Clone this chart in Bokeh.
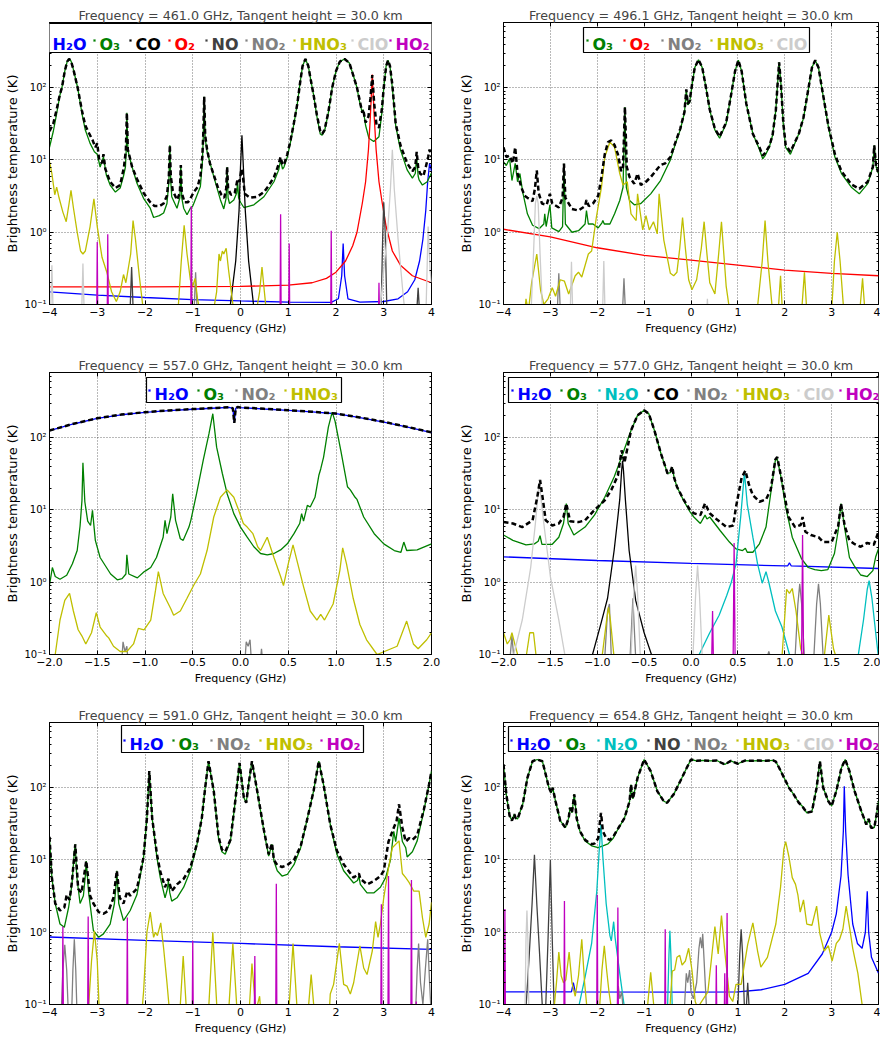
from bokeh.plotting import figure
from bokeh.layouts import column, row
from bokeh.models import (Range1d, FixedTicker, CustomJSTickFormatter, Label, BoxAnnotation, LinearAxis,
                          LogAxis)
from bokeh.embed import file_html
from bokeh.resources import INLINE

# ======================= DATA (frequency offset GHz, brightness temperature K) =======================
# ---- 461.0 GHz ----
tot_461 = [(-4.00, 25), (-3.92, 32), (-3.85, 50), (-3.78, 82), (-3.74, 100), (-3.68, 170), (-3.63, 230), (-3.59, 250),
           (-3.55, 235), (-3.50, 180), (-3.41, 100), (-3.32, 48), (-3.25, 30), (-3.18, 24), (-3.10, 19), (-3.04, 15),
           (-3.00, 17), (-2.96, 10), (-2.90, 9), (-2.87, 12), (-2.83, 7.5), (-2.73, 5), (-2.62, 4.1), (-2.52, 4.5),
           (-2.44, 8), (-2.40, 14), (-2.38, 45), (-2.36, 14), (-2.32, 11), (-2.27, 8), (-2.17, 5.5), (-2.03, 3.5),
           (-1.89, 2.6), (-1.80, 2.3), (-1.70, 2.3), (-1.61, 2.5), (-1.54, 3.2), (-1.50, 6), (-1.48, 16), (-1.46, 6),
           (-1.42, 3.8), (-1.33, 2.8), (-1.27, 3.5), (-1.25, 8.5), (-1.23, 3.5), (-1.17, 2.6), (-1.10, 2.6),
           (-1.04, 3.0), (-0.98, 3.6), (-0.90, 4.2), (-0.84, 6), (-0.80, 11), (-0.78, 22), (-0.76, 75), (-0.74, 22),
           (-0.70, 14), (-0.64, 9), (-0.56, 6.2), (-0.48, 4.3), (-0.40, 3.3), (-0.34, 3.0), (-0.30, 4), (-0.28, 8),
           (-0.26, 4), (-0.20, 3.3), (-0.12, 3.5), (-0.06, 5.5), (-0.02, 5), (0.02, 7.5), (0.05, 6), (0.09, 3.4),
           (0.20, 3.0), (0.35, 3.1), (0.49, 3.6), (0.60, 4.5), (0.70, 5.8), (0.78, 8), (0.84, 11), (0.88, 8.5),
           (0.92, 9), (0.98, 12), (1.05, 19), (1.12, 33), (1.19, 60), (1.25, 120), (1.30, 200), (1.36, 250),
           (1.42, 200), (1.47, 130), (1.53, 80), (1.60, 42), (1.67, 25), (1.71, 23), (1.76, 26), (1.84, 46),
           (1.92, 100), (2.00, 170), (2.08, 230), (2.18, 250), (2.28, 220), (2.36, 150), (2.44, 100), (2.50, 65),
           (2.55, 45), (2.57, 50), (2.62, 33), (2.68, 40), (2.72, 70), (2.76, 150), (2.80, 60), (2.85, 30),
           (2.90, 28), (2.96, 50), (3.00, 100), (3.05, 200), (3.09, 240), (3.13, 200), (3.18, 110), (3.25, 32),
           (3.35, 16), (3.49, 9), (3.60, 7), (3.66, 8), (3.69, 13), (3.72, 8), (3.76, 6.5), (3.83, 6), (3.88, 8),
           (3.93, 11), (3.96, 14), (4.00, 11)]
o3_461 = [(-4.00, 15), (-3.92, 25), (-3.85, 44), (-3.78, 80), (-3.74, 100), (-3.68, 170), (-3.63, 230), (-3.59, 250),
          (-3.55, 235), (-3.50, 180), (-3.41, 100), (-3.32, 44), (-3.25, 26), (-3.15, 17), (-3.06, 13), (-3.00, 12),
          (-2.94, 8), (-2.87, 11), (-2.81, 6.2), (-2.73, 4.5), (-2.62, 3.6), (-2.52, 4.1), (-2.45, 6), (-2.41, 8),
          (-2.39, 15), (-2.38, 45), (-2.36, 15), (-2.34, 12), (-2.27, 8), (-2.17, 4.8), (-2.03, 2.95), (-1.89, 2.15),
          (-1.82, 1.6), (-1.70, 1.7), (-1.61, 1.85), (-1.54, 2.5), (-1.50, 5), (-1.48, 16), (-1.46, 5), (-1.44, 3.1),
          (-1.33, 2.15), (-1.27, 3), (-1.25, 8.5), (-1.23, 3), (-1.19, 2.15), (-1.12, 1.75), (-1.05, 2.15),
          (-1.00, 2.3), (-0.95, 2.8), (-0.84, 4.3), (-0.80, 9), (-0.78, 20), (-0.76, 75), (-0.74, 20), (-0.70, 13),
          (-0.67, 11), (-0.56, 5.9), (-0.42, 2.8), (-0.35, 2.1), (-0.30, 3), (-0.28, 8), (-0.26, 3), (-0.23, 2.5),
          (-0.14, 2.8), (-0.08, 3.5), (-0.06, 5), (-0.04, 3), (0.00, 2.6), (0.07, 2.2), (0.28, 2.4), (0.49, 3.1),
          (0.70, 5.0), (0.80, 7.3), (0.84, 10), (0.88, 7.5), (0.91, 8), (0.98, 11), (1.05, 18), (1.12, 32),
          (1.19, 60), (1.25, 120), (1.30, 200), (1.36, 250), (1.42, 200), (1.47, 130), (1.53, 80), (1.60, 40),
          (1.67, 23), (1.71, 22), (1.76, 25), (1.84, 45), (1.92, 100), (2.00, 170), (2.08, 230), (2.18, 250),
          (2.28, 220), (2.36, 150), (2.44, 100), (2.48, 70), (2.55, 45), (2.57, 50), (2.62, 30), (2.69, 20),
          (2.79, 18), (2.90, 21), (2.96, 45), (3.00, 100), (3.05, 200), (3.09, 240), (3.13, 200), (3.18, 100),
          (3.25, 30), (3.35, 13.8), (3.49, 7.3), (3.60, 5.6), (3.66, 6.5), (3.69, 11), (3.72, 6), (3.74, 5.3),
          (3.81, 4.5), (3.91, 5), (4.00, 6.6)]
h2o_461 = [(-4.00, 0.15), (-3.00, 0.135), (-2.00, 0.125), (-1.00, 0.117), (0.00, 0.112), (1.00, 0.108), (1.90, 0.107),
           (2.05, 0.12), (2.12, 0.25), (2.15, 0.7), (2.18, 0.25), (2.25, 0.12), (2.50, 0.108), (3.00, 0.11),
           (3.30, 0.12), (3.50, 0.15), (3.65, 0.22), (3.75, 0.4), (3.82, 0.8), (3.88, 2), (3.92, 5), (3.96, 9),
           (4.00, 7)]
co_461 = [(-0.22, 0.09), (-0.10, 0.4), (-0.03, 2), (0.00, 8), (0.03, 22), (0.06, 8), (0.10, 2), (0.17, 0.4),
          (0.28, 0.09)]
o2_461 = [(-4.00, 0.175), (-2.00, 0.175), (0.00, 0.178), (1.00, 0.185), (1.50, 0.2), (1.80, 0.23), (2.00, 0.28),
          (2.20, 0.4), (2.35, 0.65), (2.44, 1.0), (2.55, 2.5), (2.62, 5), (2.68, 14), (2.72, 40), (2.76, 153),
          (2.80, 40), (2.84, 14), (2.90, 5), (2.97, 2.5), (3.05, 1.2), (3.18, 0.55), (3.35, 0.35), (3.60, 0.25),
          (4.00, 0.2)]
no_461 = [(-2.32, 0.06), (-2.28, 0.33), (-2.24, 0.06), (2.94, 0.06), (2.98, 1.0), (3.00, 2.6), (3.03, 1.0),
          (3.07, 0.06), (3.68, 0.06), (3.72, 0.17), (3.76, 0.06)]
no2_461 = [(-0.98, 0.06), (-0.94, 0.28), (-0.90, 0.06)]
hno3_461 = [(-4.00, 9.5), (-3.95, 6.5), (-3.89, 3.3), (-3.85, 4.2), (-3.80, 3), (-3.72, 1.9), (-3.65, 1.4),
            (-3.59, 2.5), (-3.55, 3.8), (-3.50, 2.2), (-3.42, 1.0), (-3.35, 0.55), (-3.30, 0.5), (-3.25, 0.55),
            (-3.15, 1.2), (-3.07, 2.9), (-3.00, 1.2), (-2.90, 0.45), (-2.80, 0.28), (-2.70, 0.15), (-2.60, 0.11),
            (-2.52, 0.15), (-2.45, 0.26), (-2.40, 0.2), (-2.30, 0.5), (-2.25, 1.45), (-2.20, 0.8), (-2.12, 0.25),
            (-2.05, 0.1), (-1.90, 0.06), (-1.40, 0.06), (-1.30, 0.1), (-1.24, 0.4), (-1.18, 1.25), (-1.12, 0.5),
            (-1.05, 0.22), (-1.00, 0.18), (-0.95, 0.23), (-0.90, 0.12), (-0.85, 0.08), (-0.60, 0.06), (-0.50, 0.15),
            (-0.45, 0.5), (-0.42, 0.4), (-0.38, 0.55), (-0.35, 0.5), (-0.30, 0.6), (-0.25, 0.3), (-0.15, 0.09),
            (0.30, 0.06), (0.40, 0.15), (0.45, 0.33), (0.50, 0.15), (0.55, 0.07), (4.00, 0.06)]
clo_461 = [(-3.98, 0.06), (-3.95, 0.35), (-3.92, 0.06), (-3.33, 0.06), (-3.30, 0.37), (-3.27, 0.06), (2.92, 0.08),
           (3.00, 0.3), (3.08, 1.0), (3.14, 4), (3.18, 13.8), (3.22, 4), (3.30, 0.8), (3.40, 0.15), (3.46, 0.06),
           (3.88, 0.06), (3.93, 1.2), (3.97, 0.3), (4.00, 0.2)]
ho2_461 = [(-3.00, 0.73), (-2.78, 0.94), (-1.03, 2.3), (0.84, 1.78), (1.02, 0.7), (1.90, 1.05), (2.90, 0.2)]

# ---- 496.1 GHz ----
tot_496 = [(-4.00, 15), (-3.94, 11), (-3.87, 11.5), (-3.80, 9), (-3.75, 15), (-3.70, 6.5), (-3.62, 4.2), (-3.55, 3.2),
           (-3.49, 3.0), (-3.38, 2.7), (-3.33, 4), (-3.29, 7.2), (-3.25, 3.5), (-3.18, 2.5), (-3.08, 2.4),
           (-3.01, 3.4), (-2.96, 2.5), (-2.82, 2.2), (-2.74, 3), (-2.71, 8.9), (-2.68, 3), (-2.54, 2.1), (-2.40, 2.0),
           (-2.26, 2.3), (-2.23, 2.8), (-2.18, 2.3), (-2.09, 2.5), (-1.98, 3.2), (-1.91, 5.8), (-1.84, 12),
           (-1.77, 17.7), (-1.70, 18.7), (-1.63, 16), (-1.56, 12), (-1.49, 7), (-1.45, 8), (-1.41, 54), (-1.37, 8),
           (-1.31, 5.8), (-1.21, 4.7), (-1.14, 6.5), (-1.07, 4.5), (-0.96, 5), (-0.86, 5.8), (-0.72, 7.5),
           (-0.65, 8.5), (-0.55, 9), (-0.44, 11), (-0.33, 17.7), (-0.23, 27), (-0.14, 46), (-0.10, 95), (-0.07, 60),
           (-0.03, 65), (0.03, 120), (0.08, 190), (0.16, 245), (0.24, 190), (0.32, 100), (0.40, 50), (0.51, 27),
           (0.61, 21), (0.75, 33), (0.86, 83), (0.94, 170), (1.01, 240), (1.08, 170), (1.18, 60), (1.32, 23),
           (1.46, 15), (1.53, 11.5), (1.58, 12.5), (1.67, 15.5), (1.74, 22), (1.81, 49), (1.85, 120), (1.88, 225),
           (1.92, 110), (1.97, 32), (2.02, 16), (2.12, 13), (2.30, 23), (2.40, 39), (2.51, 102), (2.58, 190),
           (2.65, 240), (2.72, 190), (2.79, 102), (2.93, 30), (3.07, 12), (3.21, 7), (3.42, 4.6), (3.59, 4),
           (3.77, 5), (3.88, 8), (3.91, 16), (3.95, 8), (4.00, 6.8)]
o3_496 = [(-4.00, 9.4), (-3.94, 8.4), (-3.87, 10.5), (-3.82, 5.2), (-3.75, 9), (-3.70, 5), (-3.65, 6.5), (-3.59, 3.6),
          (-3.49, 1.8), (-3.38, 1.25), (-3.24, 1.12), (-3.14, 1.3), (-3.12, 1.8), (-3.09, 1.2), (-3.01, 2.4),
          (-2.97, 1.15), (-2.82, 1.02), (-2.74, 1.2), (-2.71, 8.9), (-2.68, 1.3), (-2.54, 1.0), (-2.40, 1.05),
          (-2.26, 1.3), (-2.23, 2.0), (-2.19, 1.3), (-2.09, 1.3), (-1.98, 1.15), (-1.90, 1.35), (-1.88, 1.45),
          (-1.85, 1.3), (-1.73, 1.3), (-1.63, 1.8), (-1.52, 2.75), (-1.45, 4.2), (-1.41, 54), (-1.38, 4.2),
          (-1.31, 2.75), (-1.21, 2.4), (-1.07, 2.5), (-0.86, 3.4), (-0.65, 5.2), (-0.44, 10), (-0.33, 17),
          (-0.23, 26), (-0.14, 45), (-0.10, 92), (-0.07, 58), (-0.03, 62), (0.03, 118), (0.08, 190), (0.16, 244),
          (0.24, 190), (0.32, 100), (0.40, 49), (0.51, 26), (0.61, 20), (0.75, 32), (0.86, 83), (0.94, 170),
          (1.01, 240), (1.08, 170), (1.18, 60), (1.32, 23), (1.46, 14), (1.53, 10.4), (1.58, 11.5), (1.67, 15),
          (1.74, 22), (1.81, 49), (1.85, 120), (1.88, 225), (1.92, 110), (1.97, 30), (2.02, 15), (2.12, 12),
          (2.30, 23), (2.40, 38), (2.51, 100), (2.58, 190), (2.65, 240), (2.72, 190), (2.79, 100), (2.93, 29),
          (3.07, 11), (3.21, 6.5), (3.42, 4.2), (3.59, 3.4), (3.77, 4.7), (3.88, 8), (3.91, 16), (3.95, 8),
          (4.00, 6.5)]
o2_496 = [(-4.00, 1.1), (-3.00, 0.86), (-2.00, 0.61), (-1.00, 0.48), (0.00, 0.41), (1.00, 0.35), (2.00, 0.30),
          (3.00, 0.27), (4.00, 0.25)]
no2_496 = [(-2.86, 0.06), (-2.82, 0.27), (-2.78, 0.06), (-1.47, 0.06), (-1.43, 0.23), (-1.39, 0.06)]
hno3_496 = [(-3.56, 0.06), (-3.52, 0.12), (-3.47, 0.08), (-3.40, 0.2), (-3.29, 0.5), (-3.21, 0.16), (-3.14, 0.1),
            (-3.05, 0.12), (-2.96, 0.17), (-2.89, 0.13), (-2.79, 0.22), (-2.70, 0.21), (-2.61, 0.14), (-2.47, 0.25),
            (-2.40, 0.28), (-2.33, 0.24), (-2.19, 0.5), (-2.12, 0.55), (-2.02, 1.6), (-1.91, 4.2), (-1.84, 11),
            (-1.73, 17.7), (-1.63, 15), (-1.52, 6.5), (-1.45, 4.5), (-1.36, 5), (-1.28, 1.8), (-1.17, 1.45),
            (-1.14, 3.4), (-1.03, 1.08), (-0.96, 1.7), (-0.89, 1.08), (-0.80, 1.4), (-0.72, 0.95), (-0.68, 3.4),
            (-0.58, 0.78), (-0.44, 0.27), (-0.37, 0.25), (-0.30, 0.28), (-0.24, 0.6), (-0.18, 1.6), (-0.12, 0.6),
            (-0.05, 0.22), (0.02, 0.16), (0.12, 0.22), (0.22, 0.6), (0.28, 1.4), (0.34, 0.5), (0.40, 0.2),
            (0.51, 0.14), (0.59, 0.5), (0.65, 1.4), (0.70, 0.5), (0.75, 0.18), (0.84, 0.07), (1.40, 0.07),
            (1.52, 0.4), (1.58, 1.45), (1.64, 0.4), (1.74, 0.08), (1.86, 0.08), (1.91, 0.25), (1.95, 0.08),
            (2.36, 0.08), (2.42, 0.28), (2.47, 0.08), (3.00, 0.08), (3.06, 0.4), (3.12, 1.0), (3.18, 0.4),
            (3.26, 0.08), (3.60, 0.08), (3.66, 0.23), (3.71, 0.08)]
clo_496 = [(-3.42, 0.06), (-3.36, 0.5), (-3.32, 2.5), (-3.29, 3.2), (-3.26, 2.5), (-3.22, 0.5), (-3.16, 0.06),
           (-2.58, 0.06), (-2.55, 0.39), (-2.52, 0.06), (-1.89, 0.06), (-1.86, 0.4), (-1.83, 0.06), (0.33, 0.06),
           (0.35, 0.12), (0.37, 0.06)]

# ---- 557.0 GHz ----
tot_557 = [(-2.00, 126), (-1.75, 156), (-1.50, 186), (-1.25, 209), (-1.00, 226), (-0.75, 239), (-0.50, 249),
           (-0.25, 259), (-0.12, 264), (-0.08, 256), (-0.065, 160), (-0.05, 256), (-0.03, 266), (0.00, 263),
           (0.25, 251), (0.50, 241), (0.75, 229), (1.00, 216), (1.25, 191), (1.50, 166), (1.75, 141), (2.00, 119)]
h2o_557 = [(-2.00, 125), (-1.75, 155), (-1.50, 185), (-1.25, 208), (-1.00, 225), (-0.75, 238), (-0.50, 248),
           (-0.25, 258), (-0.12, 263), (-0.08, 255), (-0.065, 160), (-0.05, 255), (-0.03, 265), (0.00, 262),
           (0.25, 250), (0.50, 240), (0.75, 228), (1.00, 215), (1.25, 190), (1.50, 165), (1.75, 140), (2.00, 118)]
o3_557 = [(-2.00, 0.91), (-1.97, 1.6), (-1.94, 1.2), (-1.89, 1.1), (-1.82, 1.25), (-1.76, 1.8), (-1.71, 2.75),
          (-1.68, 6), (-1.66, 13.6), (-1.65, 45), (-1.63, 13), (-1.60, 7), (-1.57, 6.1), (-1.55, 9.9), (-1.52, 3.8),
          (-1.47, 2.2), (-1.36, 1.3), (-1.29, 1.08), (-1.24, 1.12), (-1.20, 1.3), (-1.19, 2.4), (-1.17, 1.3),
          (-1.08, 1.15), (-1.01, 1.4), (-0.99, 1.45), (-0.94, 1.6), (-0.88, 2.2), (-0.81, 4.2), (-0.79, 7.2),
          (-0.77, 4.7), (-0.73, 8), (-0.71, 16.8), (-0.68, 7.2), (-0.63, 4), (-0.60, 3.8), (-0.54, 5.8),
          (-0.52, 7.2), (-0.46, 16.8), (-0.39, 49), (-0.33, 114), (-0.29, 215), (-0.25, 74), (-0.19, 32),
          (-0.14, 16.8), (-0.07, 8.9), (0.00, 5.8), (0.07, 4.2), (0.14, 3.1), (0.21, 2.5), (0.28, 2.4), (0.35, 2.5),
          (0.42, 2.8), (0.49, 3.4), (0.56, 4.7), (0.62, 6.5), (0.64, 8.9), (0.66, 7), (0.70, 11.6), (0.73, 11),
          (0.78, 15), (0.82, 30), (0.84, 37), (0.87, 54), (0.92, 140), (0.96, 226), (0.99, 170), (1.05, 67),
          (1.12, 21), (1.15, 19), (1.20, 15), (1.22, 14), (1.29, 8), (1.40, 4.7), (1.50, 3.4), (1.61, 2.75),
          (1.68, 2.6), (1.71, 3.6), (1.74, 2.75), (1.85, 2.8), (2.00, 3.4)]
no2_557 = [(-1.25, 0.06), (-1.23, 0.15), (-1.21, 0.11), (-1.19, 0.13), (-1.17, 0.06), (0.04, 0.06), (0.06, 0.15),
           (0.08, 0.13), (0.10, 0.16), (0.12, 0.06), (0.20, 0.06), (0.22, 0.12), (0.24, 0.06)]
hno3_557 = [(-2.00, 0.06), (-1.94, 0.1), (-1.89, 0.3), (-1.84, 0.56), (-1.79, 0.7), (-1.75, 0.4), (-1.70, 0.22),
            (-1.66, 0.18), (-1.62, 0.14), (-1.56, 0.2), (-1.51, 0.38), (-1.47, 0.24), (-1.40, 0.18), (-1.38, 0.17),
            (-1.33, 0.13), (-1.26, 0.11), (-1.19, 0.11), (-1.12, 0.14), (-1.07, 0.23), (-1.01, 0.22), (-0.94, 0.3),
            (-0.89, 0.77), (-0.86, 1.4), (-0.81, 0.7), (-0.73, 0.43), (-0.70, 0.35), (-0.63, 0.4), (-0.56, 0.6),
            (-0.49, 0.91), (-0.42, 1.3), (-0.35, 2.75), (-0.28, 8), (-0.21, 15), (-0.14, 19), (-0.07, 15),
            (-0.02, 10), (0.03, 6.5), (0.07, 5.8), (0.13, 4.7), (0.18, 3.1), (0.21, 2.75), (0.28, 4.2), (0.35, 2.2),
            (0.42, 1.2), (0.45, 0.9), (0.50, 1.8), (0.55, 3.3), (0.60, 1.8), (0.66, 0.87), (0.73, 0.4), (0.80, 0.3),
            (0.84, 0.36), (0.88, 0.3), (0.97, 0.5), (1.04, 1.45), (1.07, 3.0), (1.11, 1.8), (1.18, 0.6),
            (1.25, 0.26), (1.32, 0.16), (1.43, 0.1), (1.64, 0.13), (1.74, 0.29), (1.81, 0.14), (1.86, 0.12),
            (1.95, 0.16), (2.00, 0.2)]

# ---- 577.0 GHz ----
tot_577 = [(-2.00, 6.8), (-1.90, 6.5), (-1.80, 5.8), (-1.69, 7.2), (-1.64, 15), (-1.61, 26), (-1.58, 14),
           (-1.55, 7.2), (-1.48, 6.1), (-1.41, 6.5), (-1.36, 8), (-1.33, 12.3), (-1.29, 7), (-1.20, 6.8),
           (-1.13, 7.2), (-1.03, 10), (-0.92, 13.6), (-0.85, 19), (-0.78, 30), (-0.74, 67), (-0.71, 45),
           (-0.64, 126), (-0.57, 204), (-0.50, 240), (-0.45, 215), (-0.39, 126), (-0.32, 60), (-0.25, 32),
           (-0.22, 34), (-0.20, 40), (-0.18, 28), (-0.15, 21), (-0.08, 14), (-0.01, 10), (0.03, 9), (0.10, 8.5),
           (0.15, 12.3), (0.20, 9), (0.27, 7.5), (0.38, 5.8), (0.45, 6.1), (0.48, 11), (0.50, 15), (0.54, 28),
           (0.58, 35), (0.62, 22), (0.66, 16), (0.73, 13), (0.80, 14), (0.85, 19), (0.90, 50), (0.92, 54),
           (0.97, 25), (1.04, 8), (1.11, 5.8), (1.17, 6.2), (1.19, 8), (1.22, 5), (1.28, 4.5), (1.36, 4.2),
           (1.41, 3.6), (1.50, 3.6), (1.57, 6), (1.60, 12.3), (1.64, 6), (1.69, 3.8), (1.74, 3.4), (1.81, 3.1),
           (1.88, 3.5), (1.95, 3.3), (2.00, 5)]
o3_577 = [(-2.00, 4.5), (-1.90, 3.8), (-1.76, 3.3), (-1.67, 3.4), (-1.63, 3.7), (-1.61, 4.4), (-1.59, 3.35),
          (-1.48, 3.35), (-1.41, 4.2), (-1.36, 6.5), (-1.33, 12.3), (-1.31, 6.5), (-1.25, 4.5), (-1.13, 5.8),
          (-1.03, 8.5), (-0.92, 15), (-0.82, 28.6), (-0.74, 54), (-0.64, 126), (-0.57, 204), (-0.50, 240),
          (-0.45, 215), (-0.39, 126), (-0.32, 60), (-0.25, 32), (-0.22, 33), (-0.20, 39), (-0.18, 28), (-0.15, 21),
          (-0.08, 13.6), (-0.01, 9.4), (0.03, 8), (0.10, 6.5), (0.15, 8.5), (0.17, 7.5), (0.20, 8), (0.31, 5.2),
          (0.41, 3.6), (0.48, 2.9), (0.55, 2.75), (0.58, 2.95), (0.60, 2.6), (0.66, 2.6), (0.73, 3.4), (0.80, 5.8),
          (0.85, 16.8), (0.90, 49), (0.92, 51), (0.96, 28.6), (1.01, 11), (1.08, 4.2), (1.18, 2.1), (1.25, 1.6),
          (1.32, 1.5), (1.39, 1.45), (1.46, 1.5), (1.53, 2.5), (1.57, 5.2), (1.60, 12.3), (1.64, 5.5), (1.69, 2.2),
          (1.74, 1.7), (1.81, 1.26), (1.88, 1.2), (1.94, 1.45), (1.97, 2.25), (2.00, 2.9)]
h2o_577 = [(-2.00, 2.25), (-1.00, 2.0), (0.00, 1.82), (1.00, 1.68), (1.03, 1.68), (1.05, 1.85), (1.07, 1.68),
           (2.00, 1.55)]
n2o_577 = [(0.07, 0.09), (0.20, 0.2), (0.30, 0.35), (0.38, 0.65), (0.43, 1.0), (0.48, 1.8), (0.53, 8), (0.57, 33),
           (0.60, 12), (0.66, 4.2), (0.71, 1.8), (0.76, 0.97), (0.80, 1.4), (0.83, 1.0), (0.90, 0.4), (0.97, 0.24),
           (1.06, 0.09), (1.78, 0.09), (1.84, 0.3), (1.88, 0.8), (1.90, 1.05), (1.93, 0.6), (1.97, 0.2),
           (2.00, 0.09)]
co_577 = [(-1.06, 0.09), (-0.96, 0.27), (-0.89, 0.6), (-0.82, 2.75), (-0.78, 8), (-0.76, 14), (-0.74, 35),
          (-0.73, 48), (-0.72, 35), (-0.70, 14), (-0.66, 2.75), (-0.59, 0.56), (-0.50, 0.2), (-0.41, 0.09)]
no2_577 = [(-1.93, 0.09), (-1.91, 0.18), (-1.89, 0.09), (-0.92, 0.09), (-0.89, 0.4), (-0.87, 0.5), (-0.85, 0.09),
           (-0.65, 0.09), (-0.62, 0.6), (-0.59, 0.09), (0.81, 0.09), (0.83, 0.11), (0.85, 0.09), (1.11, 0.09),
           (1.14, 0.5), (1.16, 0.95), (1.18, 0.5), (1.21, 0.09), (1.31, 0.09), (1.34, 0.5), (1.36, 0.95),
           (1.38, 0.5), (1.41, 0.09)]
hno3_577 = [(-2.00, 0.2), (-1.96, 0.14), (-1.93, 0.16), (-1.91, 0.2), (-1.88, 0.14), (-1.84, 0.09), (-1.76, 0.09),
            (-1.72, 0.2), (-1.68, 0.2), (-1.65, 0.09), (-0.95, 0.09), (-0.90, 0.3), (-0.88, 0.45), (-0.86, 0.3),
            (-0.82, 0.09), (0.97, 0.09), (1.02, 0.8), (1.05, 0.7), (1.08, 0.82), (1.12, 0.4), (1.17, 0.12),
            (1.20, 0.09), (1.42, 0.09), (1.47, 0.35), (1.52, 0.12), (1.55, 0.09)]
clo_577 = [(-1.90, 0.09), (-1.80, 0.3), (-1.71, 1.6), (-1.66, 6.5), (-1.62, 24), (-1.57, 6.5), (-1.50, 1.2),
           (-1.41, 0.3), (-1.34, 0.09), (-0.64, 0.09), (-0.61, 0.7), (-0.59, 1.7), (-0.57, 0.7), (-0.54, 0.09),
           (0.02, 0.09), (0.05, 0.7), (0.07, 1.7), (0.09, 0.7), (0.12, 0.09)]
ho2_577 = [(0.23, 0.4), (0.46, 3.5), (1.19, 4.5)]

# ---- 591.0 GHz ----
tot_591 = [(-4.00, 21), (-3.95, 5.7), (-3.88, 2.5), (-3.78, 2.0), (-3.69, 2.2), (-3.64, 3.3), (-3.58, 2.8),
           (-3.53, 5), (-3.46, 16.5), (-3.40, 4), (-3.33, 3.5), (-3.23, 9.7), (-3.15, 3.2), (-3.08, 2.5),
           (-2.97, 1.9), (-2.87, 1.8), (-2.76, 2.0), (-2.66, 3), (-2.59, 7.1), (-2.53, 3), (-2.45, 2.5),
           (-2.37, 3.7), (-2.31, 3.2), (-2.17, 4), (-2.03, 11), (-1.96, 38), (-1.91, 170), (-1.85, 38),
           (-1.75, 12), (-1.68, 6.9), (-1.58, 4.2), (-1.51, 5.5), (-1.44, 3.7), (-1.33, 4.6), (-1.19, 5.5),
           (-1.05, 7.8), (-0.91, 17), (-0.81, 38), (-0.74, 100), (-0.67, 233), (-0.56, 90), (-0.46, 21),
           (-0.39, 14), (-0.32, 13), (-0.21, 19), (-0.11, 65), (-0.02, 220), (0.07, 73), (0.12, 62), (0.17, 112),
           (0.24, 233), (0.35, 90), (0.49, 26), (0.59, 12), (0.66, 17), (0.70, 10), (0.77, 8.5), (0.87, 8),
           (0.98, 8.5), (1.12, 10), (1.26, 15.5), (1.39, 35), (1.53, 90), (1.64, 233), (1.74, 110), (1.88, 31),
           (2.02, 13.4), (2.16, 8.7), (2.37, 5.7), (2.48, 6.5), (2.51, 5.5), (2.65, 4.6), (2.79, 5.1), (2.93, 6),
           (3.00, 7.1), (3.10, 18), (3.21, 28), (3.27, 35), (3.32, 59), (3.39, 28), (3.46, 18), (3.53, 20),
           (3.60, 19), (3.70, 22), (3.84, 50), (3.95, 112), (4.00, 170)]
o3_591 = [(-4.00, 20), (-3.95, 5.7), (-3.88, 2.5), (-3.78, 1.3), (-3.69, 1.17), (-3.60, 2.2), (-3.53, 4.6),
          (-3.48, 13), (-3.46, 16.5), (-3.43, 6), (-3.36, 2.5), (-3.29, 3.2), (-3.25, 6), (-3.23, 9.7), (-3.18, 3.5),
          (-3.08, 1.05), (-2.97, 0.85), (-2.87, 0.95), (-2.73, 1.3), (-2.64, 2.5), (-2.60, 5), (-2.59, 7.1),
          (-2.55, 2.5), (-2.45, 1.45), (-2.31, 2.0), (-2.17, 3.3), (-2.03, 10.8), (-1.96, 38), (-1.91, 170),
          (-1.85, 38), (-1.75, 10.8), (-1.68, 5.7), (-1.58, 3.0), (-1.53, 4), (-1.51, 5.1), (-1.48, 3.5),
          (-1.44, 2.7), (-1.33, 3.0), (-1.19, 4.2), (-1.05, 7.1), (-0.91, 16.5), (-0.81, 38), (-0.74, 100),
          (-0.67, 233), (-0.56, 90), (-0.46, 20), (-0.39, 13), (-0.32, 12), (-0.21, 18.4), (-0.11, 65),
          (-0.02, 220), (0.07, 73), (0.12, 62), (0.17, 112), (0.24, 233), (0.35, 90), (0.49, 25), (0.59, 11.3),
          (0.66, 16.5), (0.70, 9.7), (0.77, 7.1), (0.87, 6.0), (0.98, 6.3), (1.12, 8.6), (1.26, 14.8), (1.39, 35),
          (1.53, 90), (1.64, 233), (1.74, 110), (1.88, 31), (2.02, 12), (2.16, 7.1), (2.37, 4.8), (2.45, 5.2),
          (2.48, 6), (2.51, 4.6), (2.65, 3.5), (2.79, 3.5), (2.93, 4.2), (3.04, 5.7), (3.14, 10), (3.21, 25),
          (3.25, 18), (3.32, 38), (3.39, 18), (3.46, 14.8), (3.49, 11), (3.60, 13), (3.70, 18.4), (3.84, 48),
          (3.95, 112), (4.00, 170)]
h2o_591 = [(-4.00, 0.86), (-2.00, 0.77), (0.00, 0.70), (2.00, 0.63), (4.00, 0.58)]
no2_591 = [(-3.76, 0.06), (-3.72, 0.3), (-3.68, 0.67), (-3.64, 0.3), (-3.60, 0.06), (-3.54, 0.06), (-3.51, 0.3),
           (-3.48, 0.8), (-3.45, 0.3), (-3.42, 0.06), (3.66, 0.06), (3.70, 0.3), (3.73, 0.7), (3.77, 0.2),
           (3.82, 0.1), (3.87, 0.3), (3.92, 0.8), (3.96, 0.2), (4.00, 0.06)]
hno3_591 = [(-3.20, 0.06), (-3.12, 0.4), (-3.06, 1.05), (-3.00, 0.4), (-2.95, 0.06), (-2.08, 0.06), (-2.03, 0.15),
            (-1.96, 1.0), (-1.89, 1.9), (-1.82, 0.85), (-1.78, 1.0), (-1.74, 0.9), (-1.67, 1.35), (-1.61, 0.6),
            (-1.54, 0.2), (-1.47, 0.06), (-1.28, 0.06), (-1.20, 0.47), (-1.12, 0.06), (-0.68, 0.06), (-0.58, 1.0),
            (-0.48, 0.06), (-0.26, 0.06), (-0.16, 0.7), (-0.06, 0.06), (0.17, 0.06), (0.24, 0.37), (0.32, 0.08),
            (0.40, 0.13), (0.44, 0.06), (1.00, 0.06), (1.10, 0.7), (1.20, 0.06), (1.40, 0.06), (1.48, 0.26),
            (1.56, 0.06), (1.85, 0.06), (1.88, 0.14), (1.95, 0.19), (2.07, 0.7), (2.16, 0.19), (2.23, 0.18),
            (2.30, 0.14), (2.37, 0.2), (2.50, 0.65), (2.58, 0.32), (2.65, 0.26), (2.76, 0.55), (2.83, 1.4),
            (2.88, 0.85), (2.93, 1.3), (3.00, 3.0), (3.10, 7.8), (3.18, 14.8), (3.32, 18.4), (3.39, 6.5),
            (3.46, 5.7), (3.53, 4.9), (3.63, 3.7), (3.74, 3.7), (3.81, 1.6), (3.88, 0.85), (3.95, 1.3), (4.00, 2.6)]
ho2_591 = [(-3.72, 1.2), (-3.19, 1.65), (-2.37, 1.6), (-1.00, 0.76), (0.30, 0.47), (0.75, 4.7), (2.95, 2.45),
           (3.10, 6.0), (3.58, 5.3), (3.68, 0.11)]

# ---- 654.8 GHz ----
tot_655 = [(-4.00, 210), (-3.94, 81), (-3.87, 41), (-3.82, 35), (-3.77, 43), (-3.74, 38), (-3.70, 37), (-3.59, 59),
           (-3.49, 137), (-3.38, 233), (-3.28, 246), (-3.17, 233), (-3.10, 153), (-3.03, 100), (-2.98, 85),
           (-2.95, 100), (-2.89, 65), (-2.79, 35), (-2.68, 28), (-2.61, 38), (-2.58, 53), (-2.54, 45), (-2.49, 81),
           (-2.44, 38), (-2.37, 25), (-2.26, 19), (-2.12, 16.5), (-2.05, 17), (-1.98, 20), (-1.94, 35), (-1.92, 45),
           (-1.88, 25), (-1.81, 20), (-1.73, 19), (-1.66, 21), (-1.56, 27), (-1.42, 38), (-1.31, 65), (-1.28, 111),
           (-1.24, 70), (-1.14, 137), (-1.00, 246), (-0.86, 170), (-0.72, 90), (-0.58, 65), (-0.51, 62),
           (-0.37, 81), (-0.23, 123), (-0.09, 189), (0.00, 246), (0.12, 236), (0.25, 240), (0.40, 236), (0.55, 238),
           (0.72, 210), (0.85, 236), (1.00, 215), (1.15, 238), (1.30, 236), (1.45, 238), (1.60, 236), (1.75, 240),
           (1.81, 230), (1.88, 189), (1.95, 153), (2.09, 100), (2.19, 81), (2.30, 62), (2.37, 56), (2.47, 45),
           (2.58, 47), (2.68, 100), (2.75, 233), (2.82, 100), (2.93, 65), (3.00, 56), (3.10, 90), (3.21, 189),
           (3.29, 246), (3.38, 170), (3.49, 90), (3.63, 48), (3.74, 31), (3.79, 37), (3.84, 28), (3.91, 28),
           (3.96, 43), (4.00, 65)]
o3_655 = [(-4.00, 210), (-3.94, 81), (-3.87, 41), (-3.82, 35), (-3.77, 43), (-3.74, 38), (-3.70, 37), (-3.59, 59),
          (-3.49, 137), (-3.38, 233), (-3.28, 246), (-3.17, 233), (-3.10, 153), (-3.03, 100), (-2.98, 85),
          (-2.95, 100), (-2.89, 65), (-2.79, 35), (-2.68, 28), (-2.61, 38), (-2.58, 53), (-2.54, 45), (-2.49, 81),
          (-2.44, 38), (-2.37, 25), (-2.26, 18.4), (-2.12, 15.7), (-1.98, 14.8), (-1.88, 15.7), (-1.77, 16.7),
          (-1.66, 20), (-1.56, 26.6), (-1.42, 38), (-1.31, 65), (-1.28, 111), (-1.24, 70), (-1.14, 137),
          (-1.00, 246), (-0.86, 170), (-0.72, 90), (-0.58, 65), (-0.51, 62), (-0.37, 81), (-0.23, 123),
          (-0.09, 189), (0.00, 246), (0.12, 236), (0.25, 240), (0.40, 236), (0.55, 238), (0.72, 210), (0.85, 236),
          (1.00, 215), (1.15, 238), (1.30, 236), (1.45, 238), (1.60, 236), (1.75, 240), (1.81, 230), (1.88, 189),
          (1.95, 153), (2.09, 100), (2.19, 81), (2.30, 62), (2.37, 56), (2.47, 45), (2.58, 47), (2.68, 100),
          (2.75, 233), (2.82, 100), (2.93, 65), (3.00, 56), (3.10, 90), (3.21, 189), (3.29, 246), (3.38, 170),
          (3.49, 90), (3.63, 48), (3.74, 31), (3.79, 37), (3.84, 28), (3.91, 28), (3.96, 43), (4.00, 65)]
h2o_655 = [(-4.00, 0.15), (-2.55, 0.15), (-2.51, 0.2), (-2.47, 0.15), (0.00, 0.148), (1.00, 0.15), (1.50, 0.16),
           (2.00, 0.19), (2.50, 0.27), (2.80, 0.5), (3.00, 1.0), (3.10, 1.8), (3.20, 6), (3.25, 25), (3.27, 105),
           (3.30, 25), (3.35, 6.3), (3.45, 1.3), (3.55, 0.7), (3.65, 0.6), (3.72, 1.0), (3.76, 3.7), (3.79, 1.0),
           (3.85, 0.45), (4.00, 0.27)]
n2o_655 = [(-2.40, 0.09), (-2.26, 0.24), (-2.12, 0.7), (-2.01, 3.7), (-1.96, 13), (-1.92, 31), (-1.88, 11),
           (-1.81, 2.5), (-1.73, 0.9), (-1.70, 0.76), (-1.65, 1.4), (-1.62, 0.85), (-1.52, 0.27), (-1.42, 0.09),
           (-0.50, 0.09), (-0.47, 0.5), (-0.45, 1.05), (-0.43, 0.5), (-0.40, 0.09)]
no_655 = [(-3.52, 0.09), (-3.45, 0.5), (-3.39, 2.5), (-3.34, 11.8), (-3.29, 2.5), (-3.23, 0.5), (-3.17, 0.09),
          (-3.10, 0.09), (-3.05, 0.8), (-3.00, 10), (-2.96, 0.8), (-2.92, 0.09), (1.00, 0.09), (1.04, 0.5),
          (1.07, 1.1), (1.10, 0.5), (1.14, 0.09), (1.18, 0.09), (1.21, 0.2), (1.24, 0.09)]
no2_655 = [(-1.57, 0.09), (-1.55, 0.18), (-1.52, 0.12), (-1.48, 0.15), (-1.45, 0.09), (-0.14, 0.09), (-0.10, 0.27),
           (-0.07, 0.2), (-0.03, 0.3), (0.00, 0.15), (0.05, 0.12), (0.12, 0.2), (0.17, 0.6), (0.20, 0.85),
           (0.23, 0.6), (0.25, 0.95), (0.28, 0.4), (0.33, 0.09)]
hno3_655 = [(-2.92, 0.09), (-2.87, 0.2), (-2.82, 0.53), (-2.77, 0.25), (-2.72, 0.2), (-2.67, 0.22), (-2.60, 0.53),
            (-2.54, 0.2), (-2.47, 0.13), (-2.40, 0.25), (-2.33, 0.8), (-2.27, 0.2), (-2.22, 0.09), (-1.95, 0.09),
            (-1.90, 0.3), (-1.85, 0.65), (-1.80, 0.3), (-1.75, 0.15), (-1.70, 0.09), (-0.93, 0.09), (-0.86, 0.28),
            (-0.79, 0.09), (-0.45, 0.09), (-0.40, 0.29), (-0.35, 0.3), (-0.30, 0.45), (-0.24, 0.48), (-0.19, 0.35),
            (-0.12, 0.4), (-0.05, 0.6), (0.02, 0.3), (0.09, 0.11), (0.14, 0.09), (0.36, 0.15), (0.44, 0.45),
            (0.51, 1.2), (0.58, 0.5), (0.65, 1.7), (0.72, 0.55), (0.82, 0.13), (0.89, 0.11), (0.96, 0.19),
            (1.07, 0.19), (1.14, 0.36), (1.21, 0.68), (1.32, 1.35), (1.42, 0.55), (1.49, 0.33), (1.63, 0.45),
            (1.81, 1.3), (1.91, 4.2), (1.98, 14), (2.02, 18), (2.09, 11), (2.16, 5.7), (2.23, 4.6), (2.28, 3.3),
            (2.33, 1.9), (2.40, 2.8), (2.47, 1.3), (2.58, 1.25), (2.68, 2.3), (2.75, 0.95), (2.84, 0.55),
            (2.93, 0.65), (3.01, 0.4), (3.10, 0.7), (3.17, 0.8), (3.24, 1.1), (3.31, 2.3), (3.38, 1.2), (3.45, 0.6),
            (3.56, 0.27), (3.66, 0.09)]
clo_655 = [(-3.54, 0.09), (-3.52, 0.8), (-3.50, 2.0), (-3.48, 0.8), (-3.46, 0.09)]
ho2_655 = [(-3.97, 2.1), (-2.70, 2.7), (-2.00, 3.3), (-1.56, 2.2), (-0.55, 1.1), (0.54, 0.35), (0.72, 0.27),
           (0.77, 1.85)]

# ======================= STYLE =======================
COLORS = {"H2O": "#0000ff", "O3": "#008000", "N2O": "#00bfbf", "CO": "#000000", "O2": "#ff0000",
          "NO": "#404040", "NO2": "#808080", "HNO3": "#bfbf00", "ClO": "#cccccc", "HO2": "#bf00bf"}
LEGEND_TEXT = {"H2O": "H\u2082O", "O3": "O\u2083", "N2O": "N\u2082O", "CO": "CO", "O2": "O\u2082",
               "NO": "NO", "NO2": "NO\u2082", "HNO3": "HNO\u2083", "ClO": "ClO", "HO2": "HO\u2082"}
FONT = "DejaVu Sans"
FRAME_H = 282
TOP_BORDER = 22
Y_MINOR = [0.2, 0.3, 0.4, 0.5, 0.6, 0.7, 0.8, 0.9, 2, 3, 4, 5, 6, 7, 8, 9,
           20, 30, 40, 50, 60, 70, 80, 90, 200, 300, 400, 500, 600, 700, 800]


def unzip(pairs):
    return [a for a, _ in pairs], [b for _, b in pairs]


def spike_line(peaks, half=0.012, base=0.05):
    xs, ys = [], []
    for f, t in peaks:
        xs += [f - half, f, f + half]
        ys += [base, t, base]
    return xs, ys


def make_panel(title, xr, xticks, xdigits, series, total, legend, box, width, border_left, border_right, height):
    p = figure(width=width, height=height, x_range=Range1d(*xr), y_range=Range1d(0.1, 800),
               y_axis_type="log", output_backend="svg", toolbar_location=None,
               min_border_left=border_left, min_border_right=border_right, min_border_top=TOP_BORDER,
               min_border_bottom=height - TOP_BORDER - FRAME_H,
               background_fill_color="white", border_fill_color="white")
    p.title.text = title
    p.title.align = "center"
    p.title.text_font = FONT
    p.title.text_font_size = "12.7px"
    p.title.text_font_style = "normal"
    p.title.standoff = 0
    p.title.offset = 0
    p.outline_line_color = "black"
    p.outline_line_alpha = 1
    p.outline_line_width = 1

    # mirrored tick marks on top and right (labels not drawn), as on the original frame
    top = LinearAxis(ticker=FixedTicker(ticks=xticks),
                     major_tick_in=4, major_tick_out=0, minor_tick_in=0, minor_tick_out=0,
                     major_label_standoff=0, major_label_text_font_size="0px",
                     major_label_text_color=None, major_label_text_alpha=0, axis_line_color=None)
    right = LogAxis(ticker=FixedTicker(ticks=[0.1, 1, 10, 100], minor_ticks=Y_MINOR),
                    major_tick_in=4, major_tick_out=0, minor_tick_in=2, minor_tick_out=0,
                    major_label_standoff=0, major_label_text_font_size="0px",
                    major_label_text_color=None, major_label_text_alpha=0, axis_line_color=None)
    p.add_layout(top, "above")
    p.add_layout(right, "right")

    bx = p.below[0]
    ly = p.left[0]
    bx.ticker = FixedTicker(ticks=xticks)
    bx.formatter = CustomJSTickFormatter(
        args=dict(d=xdigits),
        code="const s = Math.abs(tick).toFixed(d); return tick < -1e-9 ? '\u2212' + s : s;")
    ly.ticker = FixedTicker(ticks=[0.1, 1, 10, 100], minor_ticks=Y_MINOR)
    ly.formatter = CustomJSTickFormatter(
        code="const e = Math.round(Math.log10(tick));"
             "const m = {'-1': '10\u207b\u00b9', '0': '10\u2070', '1': '10\u00b9', '2': '10\u00b2'};"
             "return m[String(e)] || '';")
    for ax in (bx, ly):
        ax.major_tick_in = 4
        ax.major_tick_out = 0
        ax.minor_tick_out = 0
        ax.axis_line_color = "black"
        ax.major_tick_line_color = "black"
        ax.major_label_text_font = FONT
        ax.major_label_text_color = "black"
        ax.axis_label_text_font = FONT
        ax.axis_label_text_font_style = "normal"
        ax.axis_label_text_color = "black"
    bx.minor_tick_in = 0
    ly.minor_tick_in = 2
    bx.major_label_text_font_size = "11px"
    ly.major_label_text_font_size = "10px"
    bx.axis_label = "Frequency (GHz)"
    bx.axis_label_text_font_size = "11px"
    ly.axis_label = "Brightness temperature (K)"
    ly.axis_label_text_font_size = "13px"
    bx.major_label_standoff = 3
    bx.axis_label_standoff = 3
    ly.major_label_standoff = 3
    ly.axis_label_standoff = 1
    for g in (p.xgrid[0], p.ygrid[0]):
        g.grid_line_color = "black"
        g.grid_line_alpha = 0.55
        g.grid_line_dash = "1 2"
        g.grid_line_width = 1

    for name, (xs, ys) in series:
        p.line(xs, ys, color=COLORS[name], line_width=1.3)
    tx, ty = total
    p.line(tx, ty, color="black", line_width=2.5, line_dash="5 3")

    bl, br, bt, bb = box
    p.add_layout(BoxAnnotation(left=bl, right=br, top=FRAME_H - bt, bottom=FRAME_H - bb,
                               left_units="screen", right_units="screen", top_units="screen", bottom_units="screen",
                               fill_color="white", fill_alpha=1, line_color="black", line_width=1.2,
                               line_alpha=1))
    for name, lx in legend:
        p.add_layout(BoxAnnotation(left=lx - 6, right=lx - 4, top=FRAME_H - 17, bottom=FRAME_H - 19,
                                   left_units="screen", right_units="screen", top_units="screen",
                                   bottom_units="screen", fill_color=COLORS[name], fill_alpha=1,
                                   line_color=COLORS[name], line_width=0.5))
        p.add_layout(Label(x=lx, y=FRAME_H - 22, x_units="screen", y_units="screen", text=LEGEND_TEXT[name],
                           text_color=COLORS[name], text_font=FONT, text_font_style="bold",
                           text_font_size="16px", text_baseline="alphabetic", text_align="left"))
    return p


TICKS_4 = [-4, -3, -2, -1, 0, 1, 2, 3, 4]
TICKS_2 = [-2.0, -1.5, -1.0, -0.5, 0.0, 0.5, 1.0, 1.5, 2.0]
# left column: frame 49..431 ; right column: frame 497..878 (page pixels)
LEFT_W, LEFT_BL, LEFT_BR = 456, 49, 25
RIGHT_W, RIGHT_BL, RIGHT_BR = 424, 41, 2
ROW_H = (350, 350, 340)

p1 = make_panel("Frequency = 461.0 GHz, Tangent height = 30.0 km", (-4, 4), TICKS_4, 0,
                [("H2O", unzip(h2o_461)), ("O3", unzip(o3_461)), ("CO", unzip(co_461)), ("O2", unzip(o2_461)),
                 ("NO", unzip(no_461)), ("NO2", unzip(no2_461)), ("HNO3", unzip(hno3_461)),
                 ("ClO", unzip(clo_461)), ("HO2", spike_line(ho2_461))],
                unzip(tot_461),
                [("H2O", 3), ("O3", 50), ("CO", 86), ("O2", 125), ("NO", 162), ("NO2", 202), ("HNO3", 250),
                 ("ClO", 308), ("HO2", 346)],
                (-2, 384, 1, 30), LEFT_W, LEFT_BL, LEFT_BR, ROW_H[0])
p2 = make_panel("Frequency = 496.1 GHz, Tangent height = 30.0 km", (-4, 4), TICKS_4, 0,
                [("O3", unzip(o3_496)), ("O2", unzip(o2_496)), ("NO2", unzip(no2_496)),
                 ("HNO3", unzip(hno3_496)), ("ClO", unzip(clo_496))],
                unzip(tot_496),
                [("O3", 89), ("O2", 126), ("NO2", 164), ("HNO3", 213), ("ClO", 273)],
                (80, 306, 5, 30), RIGHT_W, RIGHT_BL, RIGHT_BR, ROW_H[0])
p3 = make_panel("Frequency = 557.0 GHz, Tangent height = 30.0 km", (-2, 2), TICKS_2, 1,
                [("H2O", unzip(h2o_557)), ("O3", unzip(o3_557)), ("NO2", unzip(no2_557)),
                 ("HNO3", unzip(hno3_557))],
                unzip(tot_557),
                [("H2O", 105), ("O3", 154), ("NO2", 192), ("HNO3", 241)],
                (97, 292, 5, 30), LEFT_W, LEFT_BL, LEFT_BR, ROW_H[1])
p4 = make_panel("Frequency = 577.0 GHz, Tangent height = 30.0 km", (-2, 2), TICKS_2, 1,
                [("H2O", unzip(h2o_577)), ("O3", unzip(o3_577)), ("N2O", unzip(n2o_577)), ("CO", unzip(co_577)),
                 ("NO2", unzip(no2_577)), ("HNO3", unzip(hno3_577)), ("ClO", unzip(clo_577)),
                 ("HO2", spike_line(ho2_577))],
                unzip(tot_577),
                [("H2O", 14), ("O3", 63), ("N2O", 101), ("CO", 150), ("NO2", 190), ("HNO3", 239), ("ClO", 300),
                 ("HO2", 342)],
                (5, 378, 5, 30), RIGHT_W, RIGHT_BL, RIGHT_BR, ROW_H[1])
p5 = make_panel("Frequency = 591.0 GHz, Tangent height = 30.0 km", (-4, 4), TICKS_4, 0,
                [("H2O", unzip(h2o_591)), ("O3", unzip(o3_591)), ("NO2", unzip(no2_591)),
                 ("HNO3", unzip(hno3_591)), ("HO2", spike_line(ho2_591))],
                unzip(tot_591),
                [("H2O", 80), ("O3", 129), ("NO2", 167), ("HNO3", 216), ("HO2", 277)],
                (72, 314, 3, 30), LEFT_W, LEFT_BL, LEFT_BR, ROW_H[2])
p6 = make_panel("Frequency = 654.8 GHz, Tangent height = 30.0 km", (-4, 4), TICKS_4, 0,
                [("H2O", unzip(h2o_655)), ("O3", unzip(o3_655)), ("N2O", unzip(n2o_655)), ("NO", unzip(no_655)),
                 ("NO2", unzip(no2_655)), ("HNO3", unzip(hno3_655)), ("ClO", unzip(clo_655)),
                 ("HO2", spike_line(ho2_655))],
                unzip(tot_655),
                [("H2O", 13), ("O3", 62), ("N2O", 100), ("NO", 150), ("NO2", 190), ("HNO3", 239), ("ClO", 300),
                 ("HO2", 342)],
                (5, 378, 4, 29), RIGHT_W, RIGHT_BL, RIGHT_BR, ROW_H[2])

layout = column(row(p1, p2), row(p3, p4), row(p5, p6))
open("out.html", "w").write(file_html(layout, INLINE))
